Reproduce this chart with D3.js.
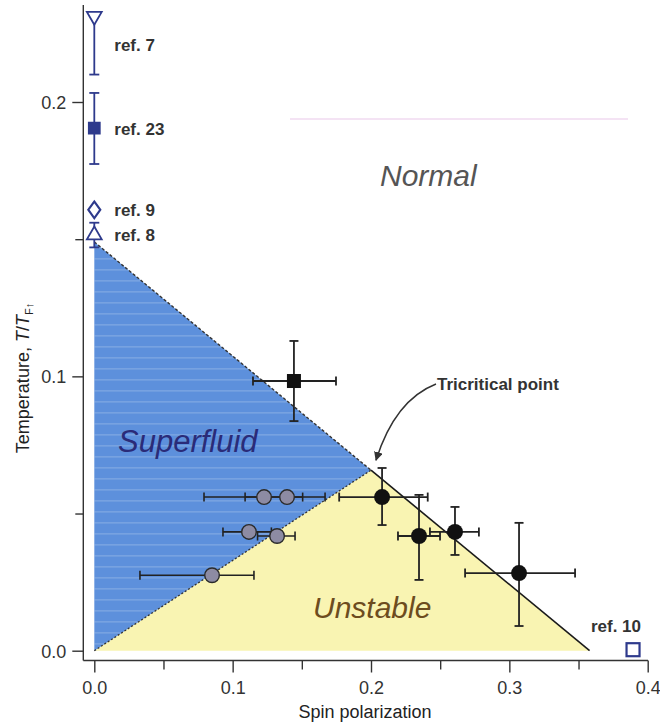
<!DOCTYPE html>
<html>
<head>
<meta charset="utf-8">
<script src="https://cdn.jsdelivr.net/npm/d3@7"></script>
<style>
  html, body { margin: 0; padding: 0; background: #fff; }
  svg { display: block; font-family: "Liberation Sans", Arial, Helvetica, sans-serif; }
</style>
</head>
<body>
<svg id="chart" width="660" height="725"></svg>
<script>
// ---- data -------------------------------------------------------------
// Phase boundary: T_c at zero polarization, polarization where T -> 0, tricritical point
const boundaryTop = [0.0, 0.149];
const boundaryEnd = [0.358, 0.0];
const tricritical = [0.2, 0.0658];

// Literature values at zero polarization (null = no bar on that side)
const refLabels = ["ref. 7", "ref. 23", "ref. 9", "ref. 8"];
const refT      = [0.2313, 0.1905, 0.1607, 0.1515];
const refTLow   = [0.210, 0.1774, null, 0.147];
const refTHigh  = [null, 0.2033, null, 0.156];
const refShapes = ["triangleDown", "square", "diamond", "triangleUp"];

// Critical polarization at T = 0
const ref10 = { label: "ref. 10", P: 0.3894, T: 0.0 };

// Superfluid transition (black square)
const sqP = [0.1443], sqT = [0.0983];
const sqPLow = [0.1147], sqPHigh = [0.1747];
const sqTLow = [0.0837], sqTHigh = [0.1129];

// Phase-separation onset (black circles)
const blackP     = [0.208, 0.2347, 0.2607, 0.307];
const blackT     = [0.0560, 0.0418, 0.0433, 0.0283];
const blackPLow  = [0.177, 0.2195, 0.2426, 0.268];
const blackPHigh = [0.241, 0.2499, 0.278, 0.3475];
const blackTLow  = [0.0458, 0.0258, 0.0349, 0.0090];
const blackTHigh = [0.0666, 0.0568, 0.0524, 0.0466];

// Superfluid with polarized core (grey circles)
const greyP     = [0.1227, 0.1393, 0.1118, 0.1321, 0.0851];
const greyT     = [0.0560, 0.0560, 0.0433, 0.0418, 0.0275];
const greyPLow  = [0.0793, 0.109, 0.093, 0.118, 0.033];
const greyPHigh = [0.1506, 0.1668, 0.128, 0.1451, 0.1154];

const xTicks = [0, 0.05, 0.1, 0.15, 0.2, 0.25, 0.3, 0.35, 0.4];
const yTicks = [0, 0.05, 0.1, 0.15, 0.2];

// ---- scales -----------------------------------------------------------
const svg = d3.select("#chart");
const x = d3.scaleLinear().domain([0, 0.4]).range([94.3, 647.7]);
const y = d3.scaleLinear().domain([0, 0.2]).range([650.7, 102]);
const axisX0 = 83.3;   // position of the vertical axis line
const axisY0 = 660.5;  // position of the horizontal axis line

const navy = "#2e3a8c";
const ink = "#222";

// ---- phase regions ----------------------------------------------------
const pt = d => [x(d[0]), y(d[1])];
const blueRegion = [boundaryTop, tricritical, [0, 0]];
const yellowRegion = [[0, 0], tricritical, boundaryEnd];

svg.append("path")
  .attr("d", d3.line()(yellowRegion.map(pt)) + "Z")
  .attr("fill", "#f9f4b2");

svg.append("path")
  .attr("d", d3.line()(blueRegion.map(pt)) + "Z")
  .attr("fill", "#5d90dc");

// light print texture across the superfluid region
const defs = svg.append("defs");
defs.append("clipPath").attr("id", "blueClip")
  .append("path").attr("d", d3.line()(blueRegion.map(pt)) + "Z");
svg.append("g").attr("clip-path", "url(#blueClip)")
  .selectAll("line").data(d3.range(y(boundaryTop[1]) + 6, y(0), 11))
  .join("line")
  .attr("x1", x(0)).attr("x2", x(tricritical[0]))
  .attr("y1", d => d).attr("y2", d => d)
  .attr("stroke", "#ffffff").attr("stroke-opacity", 0.22).attr("stroke-width", 1.2);

// boundaries
svg.append("line")
  .attr("x1", x(boundaryTop[0])).attr("y1", y(boundaryTop[1]))
  .attr("x2", x(tricritical[0])).attr("y2", y(tricritical[1]))
  .attr("stroke", "#333").attr("stroke-width", 1.4).attr("stroke-dasharray", "3,2");
svg.append("line")
  .attr("x1", x(0)).attr("y1", y(0))
  .attr("x2", x(tricritical[0])).attr("y2", y(tricritical[1]))
  .attr("stroke", "#333").attr("stroke-width", 1.3).attr("stroke-dasharray", "2,2");
svg.append("line")
  .attr("x1", x(tricritical[0])).attr("y1", y(tricritical[1]))
  .attr("x2", x(boundaryEnd[0])).attr("y2", y(boundaryEnd[1]))
  .attr("stroke", "#1a1a1a").attr("stroke-width", 1.6);

// faint guide rule
svg.append("line")
  .attr("x1", 290).attr("x2", 628).attr("y1", 119).attr("y2", 119)
  .attr("stroke", "#e2b8e2").attr("stroke-width", 1.2).attr("stroke-opacity", 0.8);

// ---- axes -------------------------------------------------------------
const xAxis = d3.axisBottom(x).tickValues(xTicks)
  .tickSize(0).tickPadding(0).tickFormat("");
const gx = svg.append("g").attr("transform", `translate(0,${axisY0})`).call(xAxis);
gx.select(".domain").remove();
gx.selectAll(".tick").each(function (d, i) {
  const major = i % 2 === 0;
  const g = d3.select(this);
  g.append("line").attr("y1", 0).attr("y2", major ? 12 : 9)
    .attr("stroke", "#333").attr("stroke-width", 1.4);
  if (major) {
    g.append("text").attr("y", 33).attr("text-anchor", "middle")
      .attr("fill", "#333").attr("font-size", 18).text(d3.format(".1f")(d));
  }
});
svg.append("line").attr("x1", axisX0).attr("x2", 648)
  .attr("y1", axisY0).attr("y2", axisY0).attr("stroke", "#333").attr("stroke-width", 1.4);

const yAxis = d3.axisLeft(y).tickValues(yTicks)
  .tickSize(0).tickPadding(0).tickFormat("");
const gy = svg.append("g").attr("transform", `translate(${axisX0},0)`).call(yAxis);
gy.select(".domain").remove();
gy.selectAll(".tick").each(function (d, i) {
  const major = i % 2 === 0;
  const g = d3.select(this);
  g.append("line").attr("x1", 0).attr("x2", major ? -11 : -8)
    .attr("stroke", "#333").attr("stroke-width", 1.4);
  if (major) {
    g.append("text").attr("x", -17).attr("dy", "0.35em").attr("text-anchor", "end")
      .attr("fill", "#333").attr("font-size", 18).text(d3.format(".1f")(d));
  }
});
svg.append("line").attr("x1", axisX0).attr("x2", axisX0)
  .attr("y1", 5).attr("y2", axisY0).attr("stroke", "#333").attr("stroke-width", 1.4);

// axis titles
svg.append("text").attr("x", 365).attr("y", 718).attr("text-anchor", "middle")
  .attr("fill", "#222").attr("font-size", 18).text("Spin polarization");

const yt = svg.append("text")
  .attr("transform", "translate(29,378) rotate(-90)")
  .attr("text-anchor", "middle").attr("fill", "#222").attr("font-size", 18);
yt.append("tspan").text("Temperature, ");
yt.append("tspan").attr("font-style", "italic").text("T");
yt.append("tspan").text("/");
yt.append("tspan").attr("font-style", "italic").text("T");
yt.append("tspan").attr("font-size", 11).attr("dy", 4).text("F\u2191");

// ---- error bar helper -------------------------------------------------
function errV(g, px, lo, hi, color, cap = 9, w = 1.8, capLo = true, capHi = true) {
  g.append("line").attr("x1", px).attr("x2", px).attr("y1", lo).attr("y2", hi)
    .attr("stroke", color).attr("stroke-width", w);
  [[lo, capLo], [hi, capHi]].forEach(([v, c]) => {
    if (c) g.append("line").attr("x1", px - cap / 2).attr("x2", px + cap / 2)
      .attr("y1", v).attr("y2", v).attr("stroke", color).attr("stroke-width", w);
  });
}
function errH(g, py, lo, hi, color, cap = 9, w = 1.8) {
  g.append("line").attr("x1", lo).attr("x2", hi).attr("y1", py).attr("y2", py)
    .attr("stroke", color).attr("stroke-width", w);
  [lo, hi].forEach(v => g.append("line").attr("y1", py - cap / 2).attr("y2", py + cap / 2)
    .attr("x1", v).attr("x2", v).attr("stroke", color).attr("stroke-width", w));
}

// ---- literature markers at P = 0 -------------------------------------
const refG = svg.append("g");
const symbolFor = {
  triangleDown: d3.symbol(d3.symbolTriangle, 95),
  triangleUp: d3.symbol(d3.symbolTriangle, 95),
  square: d3.symbol(d3.symbolSquare, 120),
  diamond: d3.symbol(d3.symbolDiamond, 80)
};
refT.forEach((t, i) => {
  const cx = x(0), cy = y(t);
  const lo = refTLow[i], hi = refTHigh[i];
  if (lo !== null || hi !== null) {
    errV(refG, cx, y(lo !== null ? lo : t), y(hi !== null ? hi : t), navy, 10, 1.8,
      lo !== null, hi !== null);
  }
  const shape = refShapes[i];
  refG.append("path")
    .attr("d", symbolFor[shape]())
    .attr("transform", `translate(${cx},${cy})` + (shape === "triangleDown" ? " rotate(180)" : "") +
      (shape === "diamond" ? " scale(1.25,1)" : ""))
    .attr("fill", shape === "square" ? navy : "#fff")
    .attr("stroke", navy).attr("stroke-width", 1.8);
  // label sits beside the middle of the bar
  const mid = (y(lo !== null ? lo : t) + y(hi !== null ? hi : t)) / 2;
  refG.append("text").attr("x", cx + 20).attr("y", mid).attr("dy", "0.36em")
    .attr("fill", "#333").attr("font-size", 17).attr("font-weight", "bold")
    .text(refLabels[i]);
});

// ref. 10 (open square on the axis)
const r10x = x(ref10.P), r10y = y(ref10.T) - 1;
svg.append("rect").attr("x", r10x - 6.5).attr("y", r10y - 6.5).attr("width", 13).attr("height", 13)
  .attr("fill", "#fff").attr("stroke", navy).attr("stroke-width", 2.2);
svg.append("text").attr("x", r10x + 8).attr("y", r10y - 18).attr("text-anchor", "end")
  .attr("fill", "#333").attr("font-size", 17).attr("font-weight", "bold").text(ref10.label);

// ---- measured points --------------------------------------------------
const ptsG = svg.append("g");

// grey circles
greyP.forEach((p, i) => {
  errH(ptsG, y(greyT[i]), x(greyPLow[i]), x(greyPHigh[i]), ink, 9, 1.6);
});
greyP.forEach((p, i) => {
  ptsG.append("circle").attr("cx", x(p)).attr("cy", y(greyT[i])).attr("r", 7.3)
    .attr("fill", "#8d8ba3").attr("stroke", "#2a2a2a").attr("stroke-width", 1.4);
});

// black square
errH(ptsG, y(sqT[0]), x(sqPLow[0]), x(sqPHigh[0]), ink, 9, 1.8);
errV(ptsG, x(sqP[0]), y(sqTLow[0]), y(sqTHigh[0]), ink, 9, 1.8);
ptsG.append("rect").attr("x", x(sqP[0]) - 7).attr("y", y(sqT[0]) - 7)
  .attr("width", 14).attr("height", 14).attr("fill", "#111");

// black circles
blackP.forEach((p, i) => {
  errH(ptsG, y(blackT[i]), x(blackPLow[i]), x(blackPHigh[i]), ink, 9, 1.8);
  errV(ptsG, x(p), y(blackTLow[i]), y(blackTHigh[i]), ink, 9, 1.8);
});
blackP.forEach((p, i) => {
  ptsG.append("circle").attr("cx", x(p)).attr("cy", y(blackT[i])).attr("r", 8)
    .attr("fill", "#111");
});

// ---- region labels ----------------------------------------------------
svg.append("text").attr("x", 380).attr("y", 186)
  .attr("font-size", 30).attr("font-style", "italic").attr("fill", "#555").text("Normal");
svg.append("text").attr("x", 118).attr("y", 452)
  .attr("font-size", 31).attr("font-style", "italic").attr("fill", "#2a2b78").text("Superfluid");
svg.append("text").attr("x", 313).attr("y", 618)
  .attr("font-size", 30).attr("font-style", "italic").attr("fill", "#6d4c1e").text("Unstable");

// ---- tricritical annotation ------------------------------------------
defs.append("marker").attr("id", "arrow").attr("viewBox", "0 0 10 10")
  .attr("refX", 9).attr("refY", 5).attr("markerWidth", 9).attr("markerHeight", 9)
  .attr("orient", "auto").attr("markerUnits", "userSpaceOnUse")
  .append("path").attr("d", "M0,0 L10,5 L0,10 Z").attr("fill", "#333");

const tp = pt(tricritical);
const arrowPath = d3.path();
arrowPath.moveTo(436, 384);
arrowPath.quadraticCurveTo(395, 400, tp[0] + 5, tp[1] - 10);
svg.append("path").attr("d", arrowPath.toString())
  .attr("fill", "none").attr("stroke", "#333").attr("stroke-width", 1.5)
  .attr("marker-end", "url(#arrow)");
svg.append("text").attr("x", 437).attr("y", 390)
  .attr("font-size", 17).attr("font-weight", "bold").attr("fill", "#333")
  .text("Tricritical point");
</script>
</body>
</html>
